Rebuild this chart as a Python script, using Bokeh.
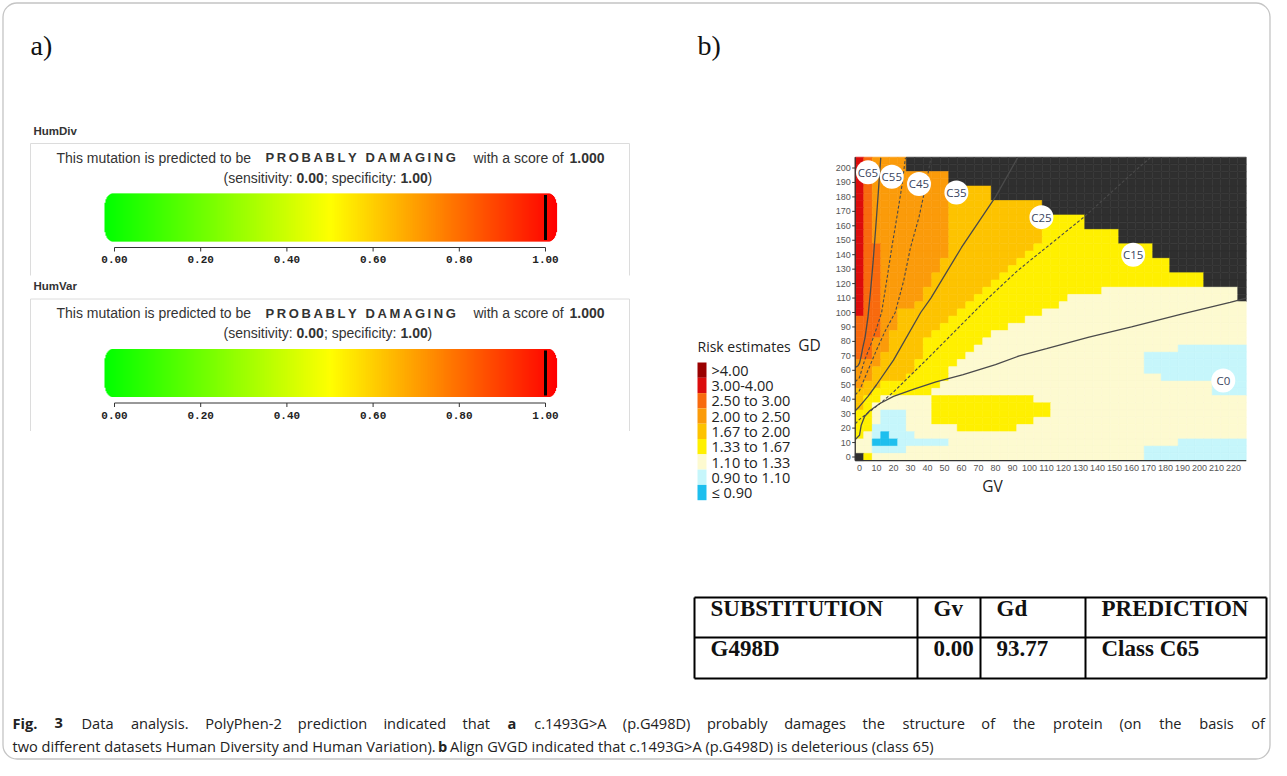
import numpy as np
from bokeh.plotting import figure
from bokeh.models import Range1d, BoxAnnotation
from bokeh.core.properties import value
from bokeh.embed import file_html
from bokeh.resources import INLINE

# ======================= DATA =======================
panel_labels = ["a)", "b)"]

# --- PolyPhen-2 (panel a) ---
pp_datasets = ["HumDiv", "HumVar"]
pp_prediction = ["PROBABLY DAMAGING", "PROBABLY DAMAGING"]
pp_scores = [1.000, 1.000]
pp_sensitivity = [0.00, 0.00]
pp_specificity = [1.00, 1.00]
score_ticks = [0.0, 0.2, 0.4, 0.6, 0.8, 1.0]
score_tick_labels = ["0.00", "0.20", "0.40", "0.60", "0.80", "1.00"]

# --- Align GVGD risk surface (panel b) ---
gv_ticks = [0, 10, 20, 30, 40, 50, 60, 70, 80, 90, 100, 110, 120, 130, 140,
            150, 160, 170, 180, 190, 200, 210, 220]
gd_ticks = [0, 10, 20, 30, 40, 50, 60, 70, 80, 90, 100, 110, 120, 130, 140,
            150, 160, 170, 180, 190, 200]
grid_gv = [0, 5, 10, 15, 20, 25, 30, 35, 40, 45, 50, 55, 60, 65, 70, 75, 80,
           85, 90, 95, 100, 105, 110, 115, 120, 125, 130, 135, 140, 145, 150,
           155, 160, 165, 170, 175, 180, 185, 190, 195, 200, 205, 210, 215,
           220, 225]
grid_gd = [205, 200, 195, 190, 185, 180, 175, 170, 165, 160, 155, 150, 145,
           140, 135, 130, 125, 120, 115, 110, 105, 100, 95, 90, 85, 80, 75,
           70, 65, 60, 55, 50, 45, 40, 35, 30, 25, 20, 15, 10, 5, 0]
# risk class of each cell along GV (run-length "code:count"), one string per GD row
risk_rows = [
    "8 7 6:4 K:40",                 # 205
    "8 7 6:4 K:40",                 # 200
    "8 7 6:9 K:35",                 # 195
    "8 7 6:9 K:35",                 # 190
    "8 7 6:9 5:5 K:30",             # 185
    "8 7 6:9 5:5 K:30",             # 180
    "8 7 6:9 5:11 K:24",            # 175
    "8 7 6:9 5:11 K:24",            # 170
    "8 7 6:9 5:11 4:5 K:19",        # 165
    "8 7 6:9 5:11 4:5 K:19",        # 160
    "8 7 6:9 5:11 4:9 K:15",        # 155
    "8 7 6:9 5:11 4:9 K:15",        # 150
    "8 7 7 6:8 5:10 4:14 K:11",     # 145
    "8 7 7 6:8 5:9 4:15 K:11",      # 140
    "8 7 7 6:7 5:9 4:18 K:9",       # 135
    "8 7 7 6:7 5:8 4:19 K:9",       # 130
    "8 7 7 6:6 5:8 4:24 K:5",       # 125
    "8 7 7 6:6 5:7 4:25 K:5",       # 120
    "8 7 7 6:5 5:7 4:14 3:16 K",    # 115
    "8 7 7 6:5 5:6 4:11 3:20 K",    # 110
    "8 7 7 6:4 5:6 4:11 3:22",      # 105
    "8 7 7 6:2 5:7 4:10 3:24",      # 100
    "7 7 7 6:2 5:6 4:9 3:26",       # 95
    "7 7 7 6:2 5:5 4:8 3:28",       # 90
    "7 7 7 6 5:5 4:7 3:30",         # 85
    "7 7 6:2 5:4 4:7 3:31",         # 80
    "7 7 6:2 5:4 4:6 3:24 2:8",     # 75
    "7 7 6 5:5 4:5 3:21 2:12",      # 70
    "6:3 5:4 4:5 3:22 2:12",        # 65
    "6:2 5:5 4:4 3:23 2:12",        # 60
    "6:2 5:4 4:5 3:25 2:10",        # 55
    "6 5:2 4:7 3:32 2:4",           # 50
    "5:2 4:7 3:33 2:4",             # 45
    "5 4:2 3:6 4:12 3:25",          # 40
    "5 4 3:7 4:14 3:23",            # 35
    "4:2 3 2:3 3:3 4:14 3:23",      # 30
    "4:2 3 2:3 3:3 4:12 3:25",      # 25
    "4:2 2:4 3:6 4:7 3:27",         # 20
    "4 3 2 1 2:3 3:39",             # 15
    "3:2 1:3 2:6 3:27 2:8",         # 10
    "3:2 2:4 3:28 2:12",            # 5
    "K 4 3:32 2:12",                # 0
]
risk_codes = ["9", "8", "7", "6", "5", "4", "3", "2", "1"]
risk_labels = [">4.00", "3.00-4.00", "2.50 to 3.00", "2.00 to 2.50",
               "1.67 to 2.00", "1.33 to 1.67", "1.10 to 1.33", "0.90 to 1.10",
               "\u2264 0.90"]
risk_colors = ["#9a0000", "#dc0c0c", "#f86a0e", "#fb9b0a", "#fdc300",
               "#fff000", "#fdfad0", "#c6f6fb", "#1ebfee"]
no_data_code = "K"
no_data_color = "#2f2f2f"

class_names = ["C65", "C55", "C45", "C35", "C25", "C15", "C0"]
class_gv = [5, 19, 35, 57, 107, 161, 214]
class_gd = [197, 194, 189, 183, 166, 140, 53]

# class boundary curves (GV, GD)
c65_gv = [-2.5, -1, 0, 1, 2, 3.3, 5, 6.5, 8, 9.5, 11, 12.5]
c65_gd = [62, 63, 65, 70, 76, 83, 97, 115, 135, 158, 182, 207]
c55_gv = [-2.5, 0, 3, 7, 10, 13, 16, 19, 22, 25, 27]
c55_gd = [52, 55, 67, 79, 89, 100, 122, 145, 166, 188, 207]
c45_gv = [-2.5, 0, 5, 10, 15, 21, 26, 30, 35, 39, 42]
c45_gd = [43, 46, 60, 74, 87, 100, 122, 145, 166, 188, 207]
c35_gv = [-2.5, 0, 5, 10, 20, 36, 42, 60, 80, 93]
c35_gd = [32, 35, 42, 50, 67, 100, 110, 145, 180, 207]
c25_gv = [-2.5, 0, 10, 20, 40, 73, 93, 132, 163, 171]
c25_gd = [23, 26, 35, 45, 68, 107, 129, 166, 199, 207]
c0_gv = [-2.5, 0, 1, 3, 6, 12, 20, 32, 45, 61, 80, 94, 110, 135, 160, 190, 218, 227.5]
c0_gd = [12, 15, 22, 28, 32, 37, 42, 47, 52, 57, 64, 70, 75, 83, 90, 99, 107, 110]

# --- result table ---
table_header = ["SUBSTITUTION", "Gv", "Gd", "PREDICTION"]
table_row = ["G498D", "0.00", "93.77", "Class C65"]

# --- caption ---
caption_line1 = [("Fig. 3", "bold"),
                 ("Data analysis. PolyPhen-2 prediction indicated that", "normal"),
                 ("a", "bold"),
                 ("c.1493G>A (p.G498D) probably damages the structure of the protein (on the basis of", "normal")]
caption_line2 = [("two different datasets Human Diversity and Human Variation).", "normal"),
                 ("b", "bold"),
                 ("Align GVGD indicated that c.1493G>A (p.G498D) is deleterious (class 65)", "normal")]

# ======================= LAYOUT =======================
W, H = 1271, 760

# score axis (panel a): score s -> px = S0 + SS*s
S0, SS = 114.0, 431.0
BAR_L, BAR_R = 104.0, 556.0
# GVGD axes: gv -> px = G0 + GS*gv ; gd -> py = D0 - DS*gd
G0, GS = 859.0, 1.7
D0, DS = 456.5, 1.445

p = figure(width=W, height=H, output_backend="svg", toolbar_location=None,
           x_range=Range1d(0, W), y_range=Range1d(H, 0),
           x_axis_type=None, y_axis_type=None, min_border=0)
p.outline_line_color = None
p.background_fill_color = "white"
p.border_fill_color = "white"
p.grid.visible = False

p.extra_x_ranges = {
    "score": Range1d((0 - S0) / SS, (W - S0) / SS),
    "gv": Range1d((0 - G0) / GS, (W - G0) / GS),
}
p.extra_y_ranges = {
    "gd": Range1d(start=(D0 - H) / DS, end=(D0 - 0) / DS),
}


def put(x, y, s, size, font="Liberation Sans", style="normal", color="#222",
        align="left", baseline="middle", xr="default", yr="default"):
    p.text(x=[x], y=[y], text=[s], text_font=value(font), text_font_size=size,
           text_font_style=style, text_color=color, text_align=align,
           text_baseline=baseline, x_range_name=xr, y_range_name=yr)


# outer rounded frame
try:
    frame = BoxAnnotation(left=2.5, right=1269.5, top=2.5, bottom=758.5,
                          fill_color=None, line_color="#3c3c3c", line_width=1.3,
                          border_radius=14)
except Exception:
    frame = BoxAnnotation(left=2.5, right=1269.5, top=2.5, bottom=758.5,
                          fill_color=None, line_color="#3c3c3c", line_width=1.3)
p.add_layout(frame)

# panel labels
put(30, 45, panel_labels[0], "28px", font="Liberation Serif", color="#111")
put(697, 45, panel_labels[1], "28px", font="Liberation Serif", color="#111")

# ======================= PANEL a =======================
NB = "\u00a0"
spaced = lambda w: "\u2009".join(list(w))
for i, name in enumerate(pp_datasets):
    dy = i * 155.5
    yl, ybox, y1, y2 = 130 + dy, 143 + dy, 157 + dy, 177 + dy
    ybt, ybb, yax, ylab, yend = 193 + dy, 241 + dy, 247 + dy, 259 + dy, 275 + dy
    put(33, yl, name, "11.5px", style="bold", color="#333")
    p.segment(x0=[30, 30, 629], y0=[ybox, ybox, ybox], x1=[629, 30, 629],
              y1=[ybox, yend, yend], line_color="#dcdcdc", line_width=1)
    put(56, y1, "This mutation is predicted to be", "14px", color="#333")
    put(265, y1, ("\u2009" + NB + "\u2009").join(spaced(w) for w in pp_prediction[i].split()),
        "13px", style="bold", color="#333")
    put(473, y1, "with a score of", "14px", color="#333")
    put(569, y1, f"{pp_scores[i]:.3f}", "14px", style="bold", color="#333")
    put(223, y2, "(sensitivity:", "14px", color="#333")
    put(296, y2, f"{pp_sensitivity[i]:.2f}", "14px", style="bold", color="#333")
    put(323.5, y2, ";" + NB + "specificity:", "14px", color="#333")
    put(400, y2, f"{pp_specificity[i]:.2f}", "14px", style="bold", color="#333")
    put(427, y2, ")", "14px", color="#333")
    # gradient bar (green -> yellow -> red) with rounded ends
    px = np.arange(BAR_L, BAR_R, 1.0)
    t = (px + 0.5 - BAR_L) / (BAR_R - BAR_L)
    r = np.clip(2 * t, 0, 1)
    g = np.clip(2 * (1 - t), 0, 1)
    cols = ["#%02x%02x00" % (int(rr * 255), int(gg * 255)) for rr, gg in zip(r, g)]
    d = np.minimum(px + 0.5 - BAR_L, BAR_R - (px + 0.5))
    rx, ry = 8.0, 14.0
    inset = np.where(d < rx, ry * (1 - np.sqrt(np.clip(1 - ((rx - d) / rx) ** 2, 0, 1))), 0)
    p.quad(left=(px - S0) / SS, right=(px + 1.6 - S0) / SS,
           top=ybt + inset, bottom=ybb - inset, x_range_name="score",
           fill_color=cols, line_color=None)
    p.segment(x0=[pp_scores[i]], x1=[pp_scores[i]], y0=[ybt + 1.5], y1=[ybb - 1.5],
              x_range_name="score", line_color="black", line_width=3)
    p.segment(x0=[score_ticks[0]], x1=[score_ticks[-1]], y0=[yax], y1=[yax],
              x_range_name="score", line_color="#333", line_width=1)
    p.segment(x0=score_ticks, x1=score_ticks, y0=[yax] * 6, y1=[yax + 4] * 6,
              x_range_name="score", line_color="#333", line_width=1)
    p.text(x=score_ticks, y=[ylab] * 6, text=score_tick_labels,
           text_font=value("Liberation Mono"), text_font_size="11px",
           text_font_style="bold", text_color="#222", text_align="center",
           text_baseline="middle", x_range_name="score")

# ======================= PANEL b: heatmap =======================
code_color = dict(zip(risk_codes, risk_colors))
code_color[no_data_code] = no_data_color
hx, hy, hc = [], [], []
for gd, row in zip(grid_gd, risk_rows):
    cells = []
    for tok in row.split():
        code, _, n = tok.partition(":")
        cells.extend([code] * (int(n) if n else 1))
    cells = (cells + [cells[-1]] * len(grid_gv))[:len(grid_gv)]
    for gv, code in zip(grid_gv, cells):
        hx.append(gv)
        hy.append(gd)
        hc.append(code_color[code])
p.rect(x=hx, y=hy, width=5, height=5, fill_color=hc, line_color=hc,
       line_width=0.6, x_range_name="gv", y_range_name="gd")

curve_style = dict(x_range_name="gv", y_range_name="gd", line_color="#4a4a4a")
p.line(c65_gv, c65_gd, line_width=1.3, **curve_style)
p.line(c55_gv, c55_gd, line_width=1.1, line_dash="3 2", **curve_style)
p.line(c45_gv, c45_gd, line_width=1.1, line_dash="3 2", **curve_style)
p.line(c35_gv, c35_gd, line_width=1.3, **curve_style)
p.line(c25_gv, c25_gd, line_width=1.1, line_dash="3 2", **curve_style)
p.line(c0_gv, c0_gd, line_width=1.3, **curve_style)

p.scatter(x=class_gv, y=class_gd, size=24, marker="circle", fill_color="white",
          line_color=None, x_range_name="gv", y_range_name="gd")
p.text(x=class_gv, y=class_gd, text=class_names, text_font=value("Open Sans"),
       text_font_size="11.5px", text_color="#3b4660", text_align="center",
       text_baseline="middle", x_range_name="gv", y_range_name="gd")

gv_lo, gv_hi = grid_gv[0] - 2.5, grid_gv[-1] + 2.5
gd_lo, gd_hi = grid_gd[-1] - 2.5, grid_gd[0] + 2.5
p.segment(x0=[gv_lo, gv_lo], y0=[gd_lo, gd_lo], x1=[gv_lo, gv_hi], y1=[gd_hi, gd_lo],
          x_range_name="gv", y_range_name="gd", line_color="#333", line_width=1.3)
p.segment(x0=[gv_lo] * len(gd_ticks), x1=[gv_lo - 1.8] * len(gd_ticks),
          y0=gd_ticks, y1=gd_ticks, x_range_name="gv", y_range_name="gd",
          line_color="#333", line_width=1)
p.text(x=[gv_lo - 2.6] * len(gd_ticks), y=gd_ticks, text=[str(v) for v in gd_ticks],
       text_font=value("Liberation Sans"), text_font_size="9px", text_color="#555",
       text_align="right", text_baseline="middle", x_range_name="gv", y_range_name="gd")
p.text(x=gv_ticks, y=[gd_lo - 4.8] * len(gv_ticks), text=[str(v) for v in gv_ticks],
       text_font=value("Liberation Sans"), text_font_size="9px", text_color="#555",
       text_align="center", text_baseline="middle", x_range_name="gv", y_range_name="gd")
put(809, 344, "GD", "15.5px", font="Open Sans", color="#222", align="center")
put(992, 485, "GV", "15.5px", font="Open Sans", color="#222", align="center")

# legend
put(697, 346, "Risk estimates", "14px", font="Open Sans", color="#222")
n = len(risk_labels)
tops = [362 + k * 15.3 for k in range(n)]
p.quad(left=[697] * n, right=[706] * n, top=tops, bottom=[t + 15.3 for t in tops],
       fill_color=risk_colors, line_color=None)
p.text(x=[711] * n, y=[t + 7.8 for t in tops], text=risk_labels,
       text_font=value("Open Sans"), text_font_size="14.5px", text_color="#222",
       text_align="left", text_baseline="middle")

# ======================= TABLE =======================
col_x = [694, 917, 980, 1085, 1266]
row_y = [597, 637, 678]
p.segment(x0=[col_x[0]] * 3, x1=[col_x[-1]] * 3, y0=row_y, y1=row_y,
          line_color="black", line_width=2)
p.segment(x0=col_x, x1=col_x, y0=[row_y[0]] * 5, y1=[row_y[-1]] * 5,
          line_color="black", line_width=2)
p.text(x=[c + 16 for c in col_x[:4]], y=[row_y[0] + 11] * 4, text=table_header,
       text_font=value("Liberation Serif"), text_font_size="23px",
       text_font_style="bold", text_color="#111", text_align="left",
       text_baseline="middle")
p.text(x=[c + 16 for c in col_x[:4]], y=[row_y[1] + 11] * 4, text=table_row,
       text_font=value("Liberation Serif"), text_font_size="23px",
       text_font_style="bold", text_color="#111", text_align="left",
       text_baseline="middle")

# ======================= CAPTION =======================
_em = {" ": 260, ".": 266, ",": 250, "(": 296, ")": 296, "-": 322, ">": 572,
       ":": 266, ";": 266}
_em.update(zip("abcdefghijklmnopqrstuvwxyz",
               [556, 613, 480, 613, 561, 336, 546, 614, 252, 252, 529, 252, 931,
                614, 601, 613, 613, 408, 479, 353, 614, 501, 778, 524, 501, 468]))
_em.update(zip("ABCDEFGHIJKLMNOPQRSTUVWXYZ",
               [633, 647, 631, 729, 556, 516, 728, 738, 279, 268, 618, 522, 903,
                754, 779, 602, 779, 618, 549, 553, 728, 592, 926, 577, 560, 571]))
_em.update({c: 572 for c in "0123456789"})


def word_w(s, size, bold):
    return sum(_em.get(c, 560) for c in s) / 1000.0 * size * 0.97 * (1.06 if bold else 1.0)


CAP_SIZE = 14.6
CAP_L, CAP_R = 12.0, 1264.0

# first line: justified, word by word
words = [(w, st) for s, st in caption_line1 for w in s.split(" ")]
widths = [word_w(w, CAP_SIZE, st == "bold") for w, st in words]
gap = (CAP_R - CAP_L - sum(widths)) / (len(words) - 1)
xs, x = [], CAP_L
for wdt in widths:
    xs.append(x)
    x += wdt + gap
for st in ("normal", "bold"):
    sel = [k for k, (w, s2) in enumerate(words) if s2 == st]
    p.text(x=[xs[k] for k in sel], y=[722] * len(sel), text=[words[k][0] for k in sel],
           text_font=value("Open Sans"), text_font_size=f"{CAP_SIZE}px",
           text_font_style=st, text_color="#222", text_align="left",
           text_baseline="middle")

# last line: natural spacing, one run per style
cap_x2 = [12, 437.5, 449.5]
for (s, st), x in zip(caption_line2, cap_x2):
    put(x, 745, s, f"{CAP_SIZE}px", font="Open Sans", style=st, color="#222")

open("out.html", "w").write(file_html(p, INLINE, "Fig. 3"))
